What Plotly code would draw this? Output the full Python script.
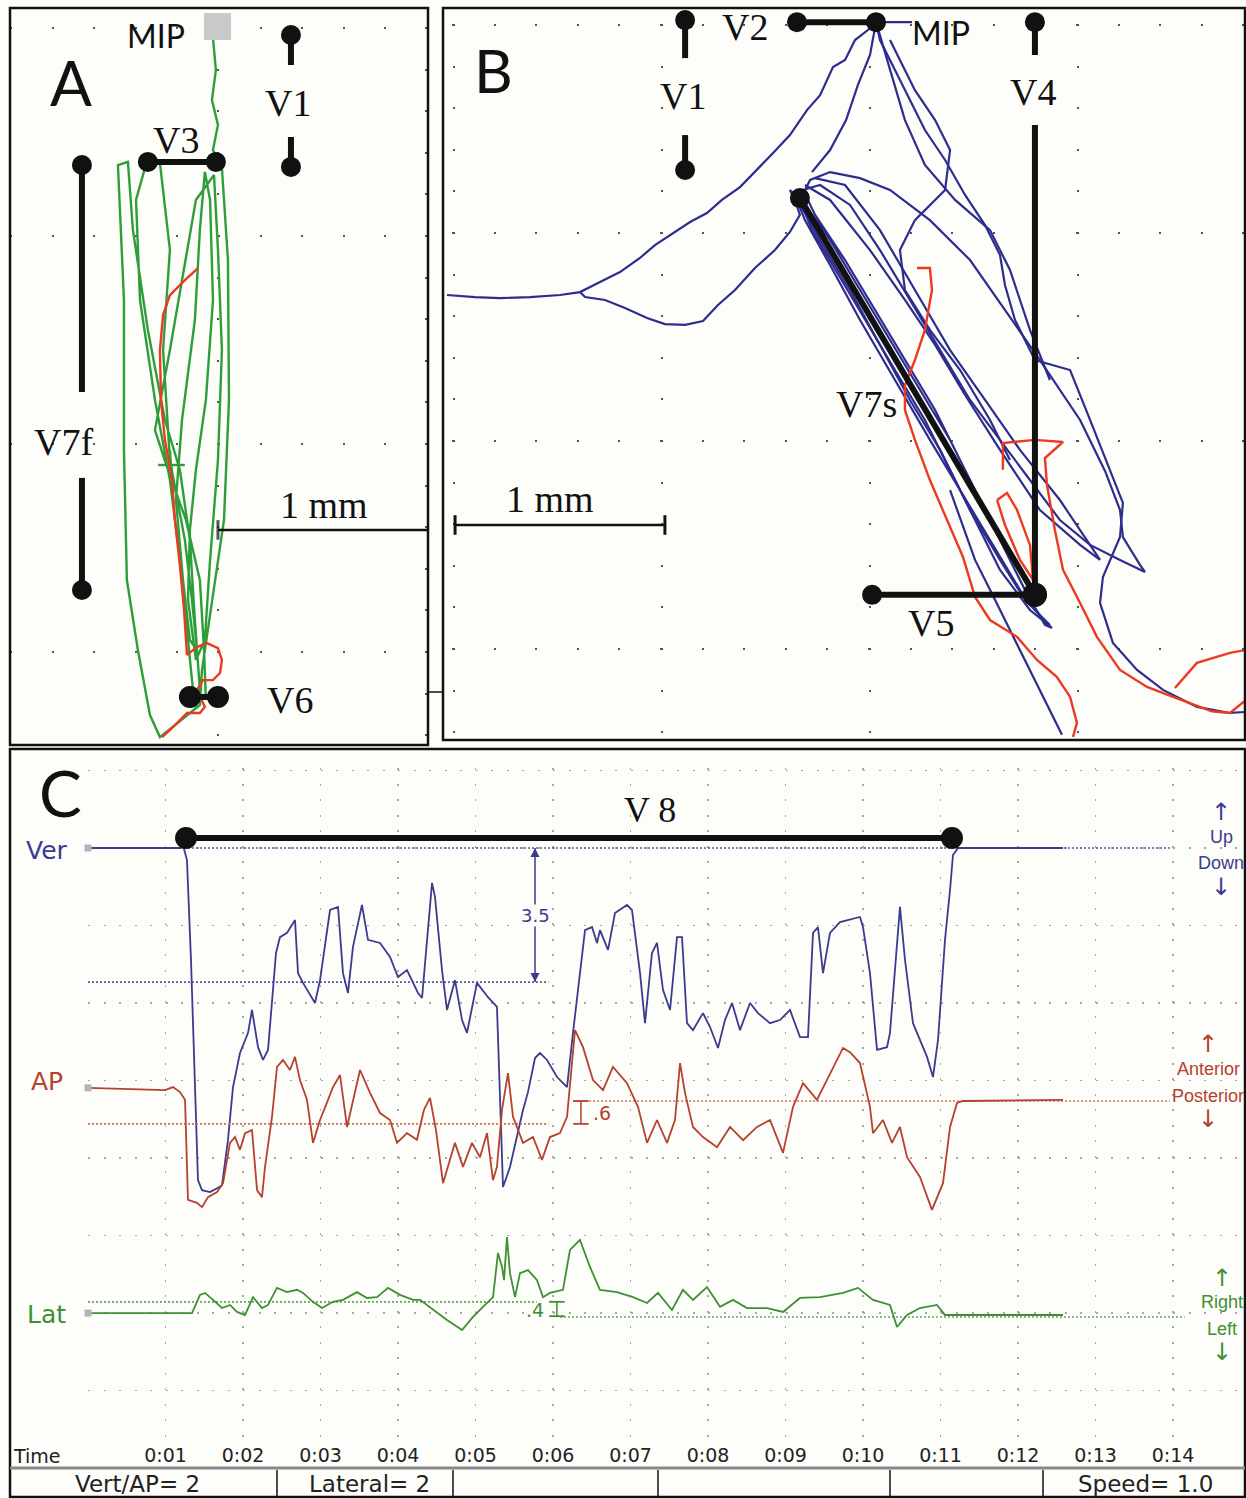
import plotly.graph_objects as go

W, H = 1246, 1498

# ---------------- Panel C : time (s) and displacement (mm) ----------------
ver_t = [0.0, 1.187, 1.226, 1.277, 1.329, 1.381, 1.419, 1.471, 1.574, 1.677,
         1.729, 1.806, 1.871, 1.961, 2.065, 2.116, 2.194, 2.258, 2.323, 2.426,
         2.477, 2.568, 2.671, 2.710, 2.774, 2.929, 2.994, 3.123, 3.226, 3.290,
         3.355, 3.419, 3.535, 3.613, 3.768, 3.897, 4.000, 4.116, 4.258, 4.310,
         4.374, 4.439, 4.477, 4.568, 4.632, 4.735, 4.826, 4.890, 5.019, 5.161,
         5.277, 5.316, 5.355, 5.445, 5.535, 5.613, 5.677, 5.768, 5.832, 5.923,
         6.052, 6.181, 6.258, 6.348, 6.413, 6.503, 6.568, 6.606, 6.710, 6.800,
         6.955, 7.019, 7.123, 7.187, 7.277, 7.342, 7.419, 7.510, 7.600, 7.665,
         7.729, 7.806, 7.935, 8.026, 8.129, 8.219, 8.310, 8.413, 8.542, 8.645,
         8.800, 8.929, 9.058, 9.187, 9.290, 9.355, 9.419, 9.484, 9.574, 9.703,
         9.961, 10.000, 10.090, 10.181, 10.310, 10.348, 10.439, 10.477, 10.542, 10.645,
         10.826, 10.903, 10.968, 11.058, 11.123, 11.161, 11.226, 12.581]
ver_v = [0, 0, 0.08, -0.31, -2.89, -6.50, -8.57, -8.83, -8.88, -8.77,
         -8.70, -7.54, -6.17, -5.29, -4.77, -4.18, -5.14, -5.47, -5.21, -2.71,
         -2.30, -2.19, -1.86, -3.23, -3.48, -4.00, -3.41, -1.60, -1.52, -3.23,
         -3.74, -2.55, -1.47, -2.37, -2.45, -2.81, -3.33, -3.15, -3.74, -3.87,
         -2.37, -0.90, -1.26, -3.15, -4.18, -3.41, -4.44, -4.77, -3.48, -3.85,
         -4.10, -6.50, -8.75, -8.23, -7.46, -6.76, -6.30, -5.42, -5.29, -5.47,
         -5.91, -6.17, -4.77, -3.15, -2.12, -2.04, -2.45, -2.12, -2.63, -1.68,
         -1.47, -1.60, -3.23, -4.52, -2.71, -2.45, -3.66, -4.18, -2.30, -2.30,
         -4.52, -4.70, -4.26, -4.62, -5.16, -4.44, -4.00, -4.70, -4.00, -4.26,
         -4.52, -4.44, -4.18, -4.88, -4.88, -2.19, -2.04, -3.23, -2.19, -1.91,
         -1.78, -2.04, -3.23, -5.21, -5.14, -4.77, -2.37, -1.52, -2.89, -4.52,
         -5.39, -5.91, -4.95, -2.37, -1.08, -0.18, 0, 0]

ap_t = [0.0, 0.994, 1.097, 1.187, 1.252, 1.290, 1.406, 1.471, 1.548, 1.665,
        1.742, 1.832, 1.897, 1.961, 2.026, 2.116, 2.181, 2.245, 2.284, 2.374,
        2.439, 2.516, 2.606, 2.671, 2.735, 2.826, 2.903, 2.994, 3.097, 3.161,
        3.252, 3.342, 3.510, 3.639, 3.768, 3.897, 3.987, 4.116, 4.245, 4.335,
        4.413, 4.490, 4.581, 4.735, 4.839, 4.955, 5.058, 5.148, 5.226, 5.277,
        5.342, 5.419, 5.484, 5.613, 5.742, 5.858, 5.961, 6.090, 6.181, 6.284,
        6.387, 6.516, 6.645, 6.774, 6.955, 7.097, 7.213, 7.342, 7.471, 7.574,
        7.639, 7.703, 7.806, 7.935, 8.116, 8.284, 8.452, 8.632, 8.800, 8.968,
        9.097, 9.226, 9.406, 9.574, 9.742, 9.832, 9.961, 10.090, 10.129, 10.258,
        10.374, 10.477, 10.568, 10.735, 10.890, 11.032, 11.123, 11.213, 11.290, 12.581]
ap_v = [0.34, 0.28, 0.36, 0.23, 0.03, -2.55, -2.63, -2.74, -2.48, -2.35,
        -2.12, -1.08, -0.93, -1.26, -0.83, -0.75, -2.30, -2.48, -1.70, -0.41,
        0.88, 1.06, 0.80, 1.14, 0.54, 0.03, -1.08, -0.49, 0.03, 0.36,
        0.67, -0.67, 0.80, 0.21, -0.31, -0.49, -1.08, -0.83, -1.00, -0.23,
        0.08, -0.75, -2.12, -1.08, -1.70, -1.08, -1.45, -0.83, -2.04, -1.70,
        -0.23, 0.72, -0.41, -1.08, -0.93, -1.52, -0.93, -0.83, -0.41, 1.83,
        1.39, 0.54, 0.28, 0.88, 0.46, -0.15, -1.08, -0.49, -1.08, -0.49,
        0.98, 0.21, -0.67, -0.93, -1.19, -0.67, -1.01, -0.67, -0.49, -1.34,
        -0.15, 0.46, 0.03, 0.72, 1.37, 1.26, 0.98, -0.15, -0.83, -0.49,
        -1.08, -0.67, -1.45, -1.96, -2.81, -2.12, -0.67, -0.05, 0, 0.03]

lat_t = [0.0, 1.342, 1.445, 1.510, 1.613, 1.729, 1.832, 1.923, 2.026, 2.129,
         2.245, 2.323, 2.439, 2.568, 2.697, 2.774, 2.903, 3.019, 3.161, 3.290,
         3.471, 3.600, 3.729, 3.871, 4.026, 4.194, 4.284, 4.452, 4.632, 4.826,
         4.968, 5.097, 5.226, 5.290, 5.342, 5.368, 5.406, 5.445, 5.510, 5.574,
         5.677, 5.794, 5.871, 5.961, 6.129, 6.219, 6.348, 6.477, 6.606, 6.826,
         7.032, 7.213, 7.355, 7.535, 7.677, 7.806, 7.987, 8.155, 8.323, 8.503,
         8.761, 8.968, 9.187, 9.445, 9.742, 9.935, 10.129, 10.348, 10.439, 10.568,
         10.735, 10.955, 11.058, 12.581]
lat_v = [0.05, 0.05, 0.52, 0.57, 0.39, 0.18, 0.26, 0.08, 0.0, 0.46,
         0.18, 0.26, 0.70, 0.59, 0.65, 0.57, 0.34, 0.18, 0.34, 0.39,
         0.59, 0.44, 0.46, 0.70, 0.52, 0.39, 0.39, 0.13, -0.13, -0.39,
         -0.05, 0.21, 0.46, 1.60, 1.24, 0.90, 2.01, 1.08, 0.46, 1.08,
         1.16, 0.90, 0.46, 0.57, 0.65, 1.68, 1.94, 1.24, 0.65, 0.59,
         0.46, 0.31, 0.57, 0.13, 0.65, 0.39, 0.72, 0.21, 0.39, 0.18,
         0.18, 0.08, 0.44, 0.46, 0.57, 0.70, 0.39, 0.26, -0.31, 0.0,
         0.18, 0.26, 0.0, 0.0]

time_tickvals = [0, 1, 2, 3, 4, 5, 6, 7, 8, 9, 10, 11, 12, 13, 14]
time_ticktext = ["", "0:01", "0:02", "0:03", "0:04", "0:05", "0:06", "0:07",
                 "0:08", "0:09", "0:10", "0:11", "0:12", "0:13", "0:14"]

# reference (dotted) levels: level, t_start, t_end
ver_ref_level = [0.0, -3.46]
ver_ref_t0 = [0.0, 0.0]
ver_ref_t1 = [13.96, 5.94]
ap_ref_level = [0.0, -0.59]
ap_ref_t0 = [6.26, 0.0]
ap_ref_t1 = [13.96, 5.94]
lat_ref_level = [0.34, -0.05]
lat_ref_t0 = [0.0, 6.09]
lat_ref_t1 = [5.79, 14.15]

# V8 duration (s) and measured amplitudes (mm)
v8_t = [1.265, 11.148]
v8_level = 0.26
ver_amp_t, ver_amp = 5.768, [0.0, -3.46]
ap_amp_t, ap_amp = 6.36, [0.0, -0.59]
lat_amp_t, lat_amp = 6.05, [0.34, -0.03]

# ---------------- Panel A : frontal trajectory (mm, origin near MIP) ----------------
a_green_x = [-0.024, -0.010, -0.029, 0.000, -0.024, 0.019, 0.048, 0.053, 0.029, -0.029,
             -0.077, -0.087, -0.192, -0.279, -0.327, -0.385, -0.438, -0.452, -0.452, -0.476,
             -0.481, -0.433, -0.409, -0.337, -0.255, -0.183, -0.135, -0.111, -0.087, -0.115,
             -0.144, -0.183, -0.231, -0.303, -0.375, -0.394, -0.351, -0.279, -0.231, -0.264,
             -0.231, -0.159, -0.125, -0.101, -0.135, -0.168, -0.202, -0.173, -0.111, -0.087,
             -0.063, -0.038, -0.024, -0.058, -0.106, -0.135, -0.144, -0.106, -0.063, -0.038,
             0.000, 0.019, 0.000, -0.019, -0.106, -0.163, -0.231, -0.303, -0.240, -0.154,
             -0.087, -0.067, -0.058, None, -0.288, -0.159, None, -0.231, -0.221]
a_green_y = [-0.048, -0.202, -0.346, -0.466, -0.587, -0.673, -1.115, -1.788, -2.365, -2.750,
             -3.087, -3.255, -3.337, -3.409, -3.303, -2.990, -2.654, -2.029, -1.308, -0.827,
             -0.659, -0.644, -0.971, -1.452, -1.885, -2.125, -2.462, -2.846, -3.183, -3.231,
             -2.942, -2.558, -2.173, -1.788, -1.308, -0.827, -0.673, -0.649, -1.067, -1.548,
             -2.077, -2.462, -2.750, -2.990, -2.942, -2.654, -2.269, -1.885, -1.404, -0.971,
             -0.692, -0.827, -1.308, -1.788, -2.125, -2.413, -2.750, -3.038, -2.942, -2.558,
             -2.077, -1.548, -1.067, -0.707, -0.827, -1.163, -1.548, -1.933, -2.125, -2.365,
             -2.654, -2.990, -3.231, None, -2.101, -2.101, None, -2.029, -2.183]
a_red_x = [-0.096, -0.159, -0.231, -0.264, -0.279, -0.274, -0.255, -0.221, -0.207, -0.183,
           -0.163, -0.149, -0.101, -0.053, 0.000, 0.019, 0.010, -0.024, -0.072, -0.101,
           -0.063, -0.087, -0.149, -0.216, -0.269]
a_red_y = [-1.154, -1.212, -1.284, -1.380, -1.548, -1.788, -1.981, -2.173, -2.365, -2.582,
           -2.798, -3.014, -2.976, -2.957, -2.981, -3.038, -3.101, -3.135, -3.135, -3.183,
           -3.264, -3.293, -3.293, -3.361, -3.409]

# ---------------- Panel B : sagittal trajectory (mm, origin near MIP) ----------------
b_tick_x = [0.029, 0.202]
b_tick_y = [0.014, 0.014]
b_upper_x = [0.029, -0.010, -0.072, -0.120, -0.178, -0.240, -0.303, -0.385, -0.466, -0.553,
             -0.625, -0.712, -0.784, -0.865, -0.947, -1.034, -1.106, -1.202, -1.298, -1.394,
             -1.490, -1.635, -1.779, -1.899, -2.034]
b_upper_y = [0.014, -0.024, -0.072, -0.168, -0.202, -0.337, -0.409, -0.529, -0.615, -0.707,
             -0.779, -0.841, -0.904, -0.947, -1.000, -1.058, -1.120, -1.188, -1.236, -1.284,
             -1.298, -1.308, -1.313, -1.308, -1.298]
b_loops_x = [-1.394, -1.370, -1.274, -1.178, -1.072, -0.986, -0.889, -0.803, -0.731, -0.649,
             -0.553, -0.457, -0.385, -0.337, -0.361, -0.385, -0.313, -0.192, -0.048, 0.096,
             0.240, 0.385, 0.505, 0.625, 0.745, 0.841, 0.875, 0.769, 0.625, 0.505,
             0.385, 0.264, 0.120, -0.024, -0.168, -0.279, -0.337, -0.288, -0.192, -0.048,
             0.096, 0.288, 0.481, 0.649, 0.817, 1.010, 1.130, 1.202, 1.216, 1.298,
             1.322, 1.202, 1.058, 0.913, 0.769, 0.625, 0.481, 0.337, 0.192, 0.048,
             -0.096, -0.240, -0.322, -0.264, -0.120, 0.024, 0.168, 0.313, 0.433, 0.553,
             0.673, 0.793, 0.865]
b_loops_y = [-1.284, -1.308, -1.322, -1.361, -1.409, -1.438, -1.442, -1.423, -1.346, -1.274,
             -1.168, -1.082, -0.995, -0.913, -0.841, -0.793, -0.865, -1.034, -1.274, -1.514,
             -1.755, -1.995, -2.236, -2.476, -2.716, -2.885, -2.899, -2.813, -2.620, -2.380,
             -2.139, -1.899, -1.659, -1.418, -1.178, -0.986, -0.841, -0.745, -0.707, -0.736,
             -0.793, -0.938, -1.130, -1.370, -1.611, -1.899, -2.144, -2.332, -2.462, -2.596,
             -2.630, -2.572, -2.500, -2.380, -2.188, -1.995, -1.803, -1.563, -1.322, -1.082,
             -0.865, -0.769, -0.793, -0.913, -1.130, -1.370, -1.611, -1.851, -2.091, -2.332,
             -2.572, -2.813, -2.885]
b_loop2_x = [-0.313, -0.192, 0.0, 0.168, 0.313, 0.457, 0.625, 0.817, 1.010, 1.106,
             0.913, 0.721, 0.553, 0.385, 0.216, 0.048, -0.120, -0.264]
b_loop2_y = [-0.769, -0.841, -1.082, -1.322, -1.538, -1.779, -2.043, -2.332, -2.500, -2.572,
             -2.284, -2.043, -1.803, -1.563, -1.274, -0.986, -0.769, -0.736]
b_loop3_x = [-0.361, -0.240, -0.096, 0.048, 0.192, 0.337, 0.481, 0.625, 0.745, 0.817,
             0.721, 0.577, 0.433, 0.288, 0.120, -0.048, -0.192, -0.313, -0.361]
b_loop3_y = [-0.817, -1.034, -1.274, -1.538, -1.803, -2.043, -2.332, -2.572, -2.764, -2.837,
             -2.716, -2.476, -2.236, -1.995, -1.707, -1.418, -1.154, -0.938, -0.817]
b_outer_x = [0.029, 0.048, 0.120, 0.192, 0.264, 0.361, 0.457, 0.553, 0.625, 0.649,
             0.697, 0.793, 0.962, 1.058, 1.154, 1.216, 1.202, 1.120, 1.106, 1.168,
             1.284, 1.409, 1.572, 1.731, 1.808]
b_outer_y = [0.014, -0.072, -0.216, -0.361, -0.505, -0.649, -0.817, -0.962, -1.106, -1.250,
             -1.418, -1.611, -1.659, -1.899, -2.139, -2.298, -2.462, -2.654, -2.779, -2.971,
             -3.101, -3.197, -3.279, -3.308, -3.303]
b_right_x = [0.029, 0.096, 0.168, 0.264, 0.409, 0.577, 0.673, 0.769, 0.865]
b_right_y = [0.014, -0.216, -0.457, -0.673, -0.841, -0.986, -1.178, -1.466, -1.707]
b_steep_x = [0.029, 0.000, -0.058, -0.115, -0.192, -0.279]
b_steep_y = [0.014, -0.144, -0.288, -0.457, -0.601, -0.707]
b_mid_x = [0.096, 0.216, 0.313, 0.385, 0.361, 0.216, 0.144, 0.168, 0.288, 0.433, 0.577, 0.673]
b_mid_y = [-0.072, -0.313, -0.457, -0.601, -0.793, -0.938, -1.082, -1.274, -1.466, -1.659, -1.899, -2.091]
b_tail_x = [0.385, 0.505, 0.601, 0.697, 0.793, 0.865, 0.923]
b_tail_y = [-2.236, -2.572, -2.764, -2.957, -3.149, -3.293, -3.413]

b_red1_x = [0.226, 0.288, 0.298, 0.264, 0.216, 0.168, 0.168, 0.216, 0.288, 0.370,
            0.447, 0.505, 0.577, 0.707, 0.803, 0.899, 0.962, 0.995, 0.976]
b_red1_y = [-1.168, -1.168, -1.274, -1.466, -1.611, -1.731, -1.851, -1.995, -2.188, -2.380,
            -2.558, -2.750, -2.861, -2.942, -3.053, -3.135, -3.231, -3.356, -3.423]
b_red2_x = [0.639, 0.639, 0.793, 0.928, 0.841, 0.851, 0.889, 0.928, 1.010, 1.091,
            1.202, 1.332, 1.457, 1.538, 1.644, 1.731, 1.808]
b_red2_y = [-2.139, -2.010, -1.995, -2.005, -2.082, -2.212, -2.428, -2.620, -2.779, -2.942,
            -3.101, -3.183, -3.231, -3.260, -3.300, -3.308, -3.245]
b_red3_x = [1.466, 1.572, 1.731, 1.808]
b_red3_y = [-3.188, -3.067, -3.019, -3.005]
b_red4_x = [0.611, 0.659, 0.707, 0.769, 0.784, 0.721, 0.649, 0.611]
b_red4_y = [-2.284, -2.250, -2.332, -2.500, -2.668, -2.572, -2.404, -2.284]

# ---------------- styling ----------------
GREEN = "#2f9e3a"
RED = "#ec3a22"
BLUE = "#2d2d8f"
BLACK = "#111111"
VER_C = "#3b3b8f"
AP_C = "#b5412f"
LAT_C = "#3f8f33"
BG = "#fdfdf9"
SERIF = "Liberation Serif, Times New Roman, serif"
GILL = "Lato, Open Sans, sans-serif"
VERD = "DejaVu Sans, Verdana, sans-serif"
NARROW = "Liberation Sans Narrow, Liberation Sans, Arial, sans-serif"


def fx(p):
    return p / W


def fy(p):
    return 1 - p / H


fig = go.Figure()


def add_line(x, y, color, width, xa, ya, dash=None):
    fig.add_trace(go.Scatter(x=x, y=y, mode="lines", xaxis=xa, yaxis=ya,
                             line=dict(color=color, width=width, dash=dash),
                             hoverinfo="skip", showlegend=False))


def add_bar(x, y, sizes, xa, ya, width=6, color=BLACK):
    fig.add_trace(go.Scatter(x=x, y=y, mode="lines+markers", xaxis=xa, yaxis=ya,
                             line=dict(color=color, width=width), opacity=1,
                             marker=dict(size=sizes, color=color, opacity=1, line=dict(width=0)),
                             cliponaxis=False, hoverinfo="skip", showlegend=False))


# ---- Panel A ----
add_line(a_green_x, a_green_y, GREEN, 2.4, "x", "y")
add_line(a_red_x, a_red_y, RED, 2.4, "x", "y")
fig.add_trace(go.Scatter(x=[-0.002], y=[0.007], mode="markers", xaxis="x", yaxis="y",
                         marker=dict(symbol="square", size=27, color="#c9c9c9"),
                         hoverinfo="skip", showlegend=False))
add_bar([0.351, 0.351], [-0.034, -0.178], [20, 0], "x", "y")
add_bar([0.351, 0.351], [-0.524, -0.668], [0, 20], "x", "y")
add_bar([-0.337, -0.010], [-0.644, -0.644], [20, 20], "x", "y")
add_bar([-0.654, -0.654], [-0.659, -1.750], [20, 0], "x", "y")
add_bar([-0.654, -0.654], [-2.163, -2.702], [0, 20], "x", "y")
add_bar([-0.135, 0.0], [-3.216, -3.216], [22, 22], "x", "y")
fig.add_trace(go.Scatter(x=[0.0, 1.01], y=[-2.413, -2.413], mode="lines+markers", xaxis="x", yaxis="y",
                         line=dict(color=BLACK, width=2.5),
                         marker=dict(symbol="line-ns", size=[14, 0], line=dict(width=3, color=BLACK)),
                         hoverinfo="skip", showlegend=False))

# ---- Panel B ----
for bx, by in [(b_tick_x, b_tick_y), (b_upper_x, b_upper_y), (b_loops_x, b_loops_y),
               (b_loop2_x, b_loop2_y), (b_loop3_x, b_loop3_y), (b_right_x, b_right_y),
               (b_outer_x, b_outer_y), (b_steep_x, b_steep_y), (b_mid_x, b_mid_y),
               (b_tail_x, b_tail_y)]:
    add_line(bx, by, BLUE, 2.2, "x2", "y2")
for rx, ry in [(b_red1_x, b_red1_y), (b_red2_x, b_red2_y), (b_red3_x, b_red3_y), (b_red4_x, b_red4_y)]:
    add_line(rx, ry, RED, 2.4, "x2", "y2")
add_bar([-0.351, 0.029], [0.014, 0.014], [20, 20], "x2", "y2")
add_bar([-0.889, -0.889], [0.024, -0.159], [20, 0], "x2", "y2")
add_bar([-0.889, -0.889], [-0.529, -0.697], [0, 20], "x2", "y2")
add_bar([0.793, 0.793], [0.014, -0.144], [20, 0], "x2", "y2")
add_bar([0.793, 0.793], [-0.481, -2.740], [0, 24], "x2", "y2")
add_bar([-0.337, 0.793], [-0.832, -2.740], [20, 0], "x2", "y2")
add_bar([0.010, 0.793], [-2.740, -2.740], [20, 24], "x2", "y2")
fig.add_trace(go.Scatter(x=[-1.995, -0.986], y=[-2.404, -2.404], mode="lines+markers", xaxis="x2", yaxis="y2",
                         line=dict(color=BLACK, width=2.5),
                         marker=dict(symbol="line-ns", size=14, line=dict(width=3, color=BLACK)),
                         hoverinfo="skip", showlegend=False))

# ---- Panel C ----
for lev, t0, t1 in zip(ver_ref_level, ver_ref_t0, ver_ref_t1):
    add_line([t0, t1], [lev, lev], "#5a5aa8", 1.6, "x3", "y3", dash="2px,2px")
for lev, t0, t1 in zip(ap_ref_level, ap_ref_t0, ap_ref_t1):
    add_line([t0, t1], [lev, lev], "#cc6a5a", 1.6, "x3", "y4", dash="2px,2px")
for lev, t0, t1 in zip(lat_ref_level, lat_ref_t0, lat_ref_t1):
    add_line([t0, t1], [lev, lev], "#5fa85a", 1.6, "x3", "y5", dash="2px,2px")

add_line(ver_t, ver_v, VER_C, 1.8, "x3", "y3")
add_line(ap_t, ap_v, AP_C, 1.8, "x3", "y4")
add_line(lat_t, lat_v, LAT_C, 1.8, "x3", "y5")

for ya, v0 in [("y3", ver_v[0]), ("y4", ap_v[0]), ("y5", lat_v[0])]:
    fig.add_trace(go.Scatter(x=[0], y=[v0], mode="markers", xaxis="x3", yaxis=ya,
                             marker=dict(symbol="square", size=7, color="#b4b4b4"),
                             cliponaxis=False, hoverinfo="skip", showlegend=False))

add_bar(v8_t, [v8_level, v8_level], [22, 22], "x3", "y3", width=6)

fig.add_trace(go.Scatter(x=[ver_amp_t, ver_amp_t], y=ver_amp, mode="lines+markers", xaxis="x3", yaxis="y3",
                         line=dict(color=VER_C, width=1.5),
                         marker=dict(symbol=["arrow-up", "arrow-down"], size=9, color=VER_C),
                         hoverinfo="skip", showlegend=False))
fig.add_trace(go.Scatter(x=[ap_amp_t, ap_amp_t], y=ap_amp, mode="lines+markers", xaxis="x3", yaxis="y4",
                         line=dict(color=AP_C, width=1.5),
                         marker=dict(symbol="line-ew", size=11, line=dict(width=1.8, color=AP_C)),
                         hoverinfo="skip", showlegend=False))
fig.add_trace(go.Scatter(x=[lat_amp_t, lat_amp_t], y=lat_amp, mode="lines+markers", xaxis="x3", yaxis="y5",
                         line=dict(color=LAT_C, width=1.5),
                         marker=dict(symbol="line-ew", size=11, line=dict(width=1.8, color=LAT_C)),
                         hoverinfo="skip", showlegend=False))

# ---------------- annotations ----------------
ann = []


def txt(x, y, s, size, family, color=BLACK, xref="paper", yref="paper", bg=None):
    d = dict(x=x, y=y, xref=xref, yref=yref, text=s, showarrow=False,
             xanchor="center", yanchor="middle",
             font=dict(size=size, family=family, color=color))
    if bg:
        d["bgcolor"] = bg
        d["borderpad"] = 0
    ann.append(d)


# panel letters
txt(fx(71), fy(82), "A", 62, GILL)
txt(fx(493), fy(70), "B", 60, GILL)
txt(fx(61), fy(792), "C", 64, GILL)

# panel A labels (mm coords)
txt(-0.298, -0.038, "MIP", 32, GILL, xref="x", yref="y")
txt(0.336, -0.361, "V1", 38, SERIF, xref="x", yref="y")
txt(-0.200, -0.538, "V3", 38, SERIF, xref="x", yref="y")
txt(-0.745, -1.990, "V7f", 38, SERIF, xref="x", yref="y")
txt(0.346, -3.231, "V6", 38, SERIF, xref="x", yref="y")
txt(0.510, -2.293, "1 mm", 38, SERIF, xref="x", yref="y")

# panel B labels
txt(0.341, -0.034, "MIP", 32, GILL, xref="x2", yref="y2")
txt(-0.601, -0.010, "V2", 38, SERIF, xref="x2", yref="y2")
txt(-0.899, -0.341, "V1", 38, SERIF, xref="x2", yref="y2")
txt(0.784, -0.322, "V4", 38, SERIF, xref="x2", yref="y2")
txt(-0.019, -1.822, "V7s", 38, SERIF, xref="x2", yref="y2")
txt(0.293, -2.875, "V5", 38, SERIF, xref="x2", yref="y2")
txt(-1.538, -2.279, "1 mm", 38, SERIF, xref="x2", yref="y2")

# panel C labels
txt((v8_t[0] + v8_t[1]) / 2 + 1.05, 0.98, "V 8", 36, SERIF, xref="x3", yref="y3")
txt(ver_amp_t, -1.73, "3.5", 18, VERD, VER_C, xref="x3", yref="y3", bg=BG)
txt(6.63, -0.31, ".6", 19, VERD, AP_C, xref="x3", yref="y4")
txt(5.77, 0.13, ".4", 19, VERD, LAT_C, xref="x3", yref="y5")

txt(fx(47), fy(850), "Ver", 25, VERD, VER_C)
txt(fx(47), fy(1081), "AP", 25, VERD, AP_C)
txt(fx(47), fy(1314), "Lat", 25, VERD, LAT_C)
txt(fx(37), fy(1456), "Time", 19, VERD, "#222222")

ARROW = "DejaVu Sans, sans-serif"
for s, yy, sz, fam in [("↑", 812, 24, ARROW), ("Up", 837, 18, NARROW), ("Down", 863, 18, NARROW), ("↓", 887, 24, ARROW)]:
    txt(fx(1221), fy(yy), s, sz, fam, VER_C)
for s, yy, sz, fam in [("↑", 1044, 24, ARROW), ("Anterior", 1069, 18, NARROW), ("Posterior", 1096, 18, NARROW), ("↓", 1119, 24, ARROW)]:
    txt(fx(1208), fy(yy), s, sz, fam, AP_C)
for s, yy, sz, fam in [("↑", 1278, 24, ARROW), ("Right", 1302, 18, NARROW), ("Left", 1329, 18, NARROW), ("↓", 1352, 24, ARROW)]:
    txt(fx(1222), fy(yy), s, sz, fam, LAT_C)

# status bar
txt(fx(137), fy(1484), "Vert/AP= 2", 23, VERD, "#222222")
txt(fx(369), fy(1484), "Lateral= 2", 23, VERD, "#222222")
txt(fx(1145), fy(1484), "Speed= 1.0", 23, VERD, "#222222")

# ---------------- frames ----------------
shapes = []


def rect(x0, y0, x1, y1, width=2.5, color=BLACK):
    shapes.append(dict(type="rect", xref="paper", yref="paper", x0=fx(x0), x1=fx(x1),
                       y0=fy(y1), y1=fy(y0), line=dict(color=color, width=width)))


def seg(x0, y0, x1, y1, width=1.5, color=BLACK):
    shapes.append(dict(type="line", xref="paper", yref="paper", x0=fx(x0), x1=fx(x1),
                       y0=fy(y0), y1=fy(y1), line=dict(color=color, width=width)))


rect(10, 8, 428, 745)
rect(443, 8, 1245, 740)
rect(10, 749, 1245, 1497)
seg(10, 1468, 1245, 1468, width=3, color="#8a8a8a")
for xv in [277, 453, 658, 890, 1043]:
    seg(xv, 1470, xv, 1497, width=1.5)
seg(428, 692, 443, 692, width=1.5)

# ---------------- axes ----------------
hidden = dict(showticklabels=False, ticks="", zeroline=False, showline=False, fixedrange=True)
fig.update_layout(
    width=W, height=H, margin=dict(l=0, r=0, t=0, b=0), autosize=False,
    paper_bgcolor=BG, plot_bgcolor=BG, showlegend=False, hovermode=False,
    annotations=ann, shapes=shapes,
    xaxis=dict(domain=[fx(10), fx(428)], range=[-1.0, 1.01], anchor="y",
               showgrid=True, gridcolor="#555555", gridwidth=2, griddash="0px,19px,2px,20.6px",
               dtick=1, tick0=0, **hidden),
    yaxis=dict(domain=[fy(745), fy(8)], range=[-3.447, 0.096], anchor="x",
               showgrid=True, gridcolor="#555555", gridwidth=2, griddash="2px,39.6px",
               dtick=1, tick0=0, **hidden),
    xaxis2=dict(domain=[fx(443), fx(1245)], range=[-2.053, 1.803], anchor="y2",
                showgrid=True, gridcolor="#555555", gridwidth=2, griddash="0px,16px,2px,23.6px",
                dtick=1, tick0=0, **hidden),
    yaxis2=dict(domain=[fy(740), fy(8)], range=[-3.438, 0.082], anchor="x2",
                showgrid=True, gridcolor="#555555", gridwidth=2, griddash="0px,9px,2px,30.6px",
                dtick=1, tick0=0, **hidden),
    xaxis3=dict(domain=[fx(88), fx(1244)], range=[0, 14.916], anchor="y3",
                showgrid=True, gridcolor="#a8a8a8", gridwidth=1.6, griddash="0px,10px,2px,3.5px",
                tickmode="array", tickvals=time_tickvals, ticktext=time_ticktext,
                tickfont=dict(family=VERD, size=19, color="#222222"),
                showticklabels=True, ticks="", zeroline=False, showline=False, fixedrange=True),
    yaxis3=dict(domain=[fy(1442), fy(758)], range=[-15.329, 2.323], anchor="x3",
                showgrid=True, gridcolor="#a8a8a8", gridwidth=1.6, griddash="2px,13.5px",
                dtick=2, tick0=0, **hidden),
    yaxis4=dict(overlaying="y3", anchor="x3", range=[-8.800, 8.852], showgrid=False, visible=False),
    yaxis5=dict(overlaying="y3", anchor="x3", range=[-3.277, 14.374], showgrid=False, visible=False),
)

fig.write_html("out.html", config={"displayModeBar": False, "staticPlot": True},
               post_script="document.body.style.margin='0px';document.body.style.overflow='hidden';")
